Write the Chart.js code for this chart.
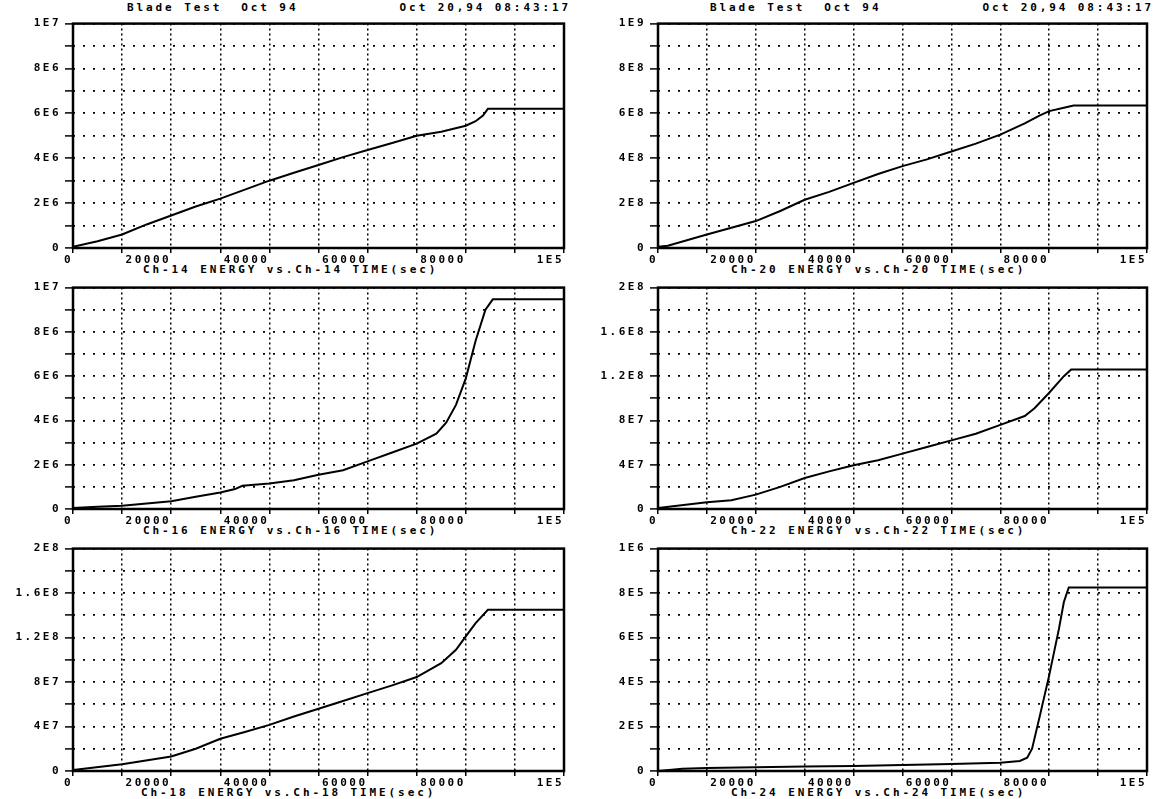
<!DOCTYPE html>
<html>
<head>
<meta charset="utf-8">
<script src="https://cdn.jsdelivr.net/npm/chart.js@4"></script>
<style>
  body { margin: 0; background: #fff; width: 1154px; height: 799px; overflow: hidden; position: relative; }
  canvas { position: absolute; }
  .txt { position: absolute; font: bold 11px "DejaVu Sans Mono", monospace; letter-spacing: 2.9px; white-space: pre; color: #000; line-height: 12px; }
</style>
</head>
<body>
<div class="txt" style="left:127px;top:2px">Blade Test  Oct 94</div>
<div class="txt" style="right:583px;top:2px">Oct 20,94 08:43:17</div>
<div class="txt" style="left:710px;top:2px">Blade Test  Oct 94</div>
<div class="txt" style="right:0px;top:2px">Oct 20,94 08:43:17</div>

<div class="txt" style="left:143px;top:264px">Ch-14 ENERGY vs.Ch-14 TIME(sec)</div>
<div class="txt" style="left:731px;top:264px">Ch-20 ENERGY vs.Ch-20 TIME(sec)</div>
<div class="txt" style="left:143px;top:525px">Ch-16 ENERGY vs.Ch-16 TIME(sec)</div>
<div class="txt" style="left:731px;top:525px">Ch-22 ENERGY vs.Ch-22 TIME(sec)</div>
<div class="txt" style="left:141px;top:787px">Ch-18 ENERGY vs.Ch-18 TIME(sec)</div>
<div class="txt" style="left:731px;top:787px">Ch-24 ENERGY vs.Ch-24 TIME(sec)</div>

<canvas id="c14" width="580" height="257" style="left:0;top:13px"></canvas>
<canvas id="c20" width="574" height="257" style="left:580px;top:13px"></canvas>
<canvas id="c16" width="580" height="254" style="left:0;top:277px"></canvas>
<canvas id="c22" width="574" height="254" style="left:580px;top:277px"></canvas>
<canvas id="c18" width="580" height="255" style="left:0;top:538px"></canvas>
<canvas id="c24" width="574" height="255" style="left:580px;top:538px"></canvas>

<script>
// time axis, same for every channel
const xTickLabels = ['0', '20000', '40000', '60000', '80000', '1E5'];

// Ch-14
const ch14Time = [0, 5000, 10000, 15000, 20000, 25000, 30000, 35000, 40000, 45000, 50000, 55000, 60000, 65000, 70000, 75000, 80000, 82000, 83500, 84500, 100000];
const ch14Energy = [0.05e6, 0.3e6, 0.6e6, 1.05e6, 1.45e6, 1.85e6, 2.2e6, 2.6e6, 3.0e6, 3.35e6, 3.7e6, 4.05e6, 4.37e6, 4.68e6, 5.0e6, 5.18e6, 5.45e6, 5.65e6, 5.9e6, 6.2e6, 6.2e6];
const ch14YLabels = ['0', '2E6', '4E6', '6E6', '8E6', '1E7'];

// Ch-20
const ch20Time = [0, 2000, 10000, 20000, 25000, 30000, 35000, 40000, 45000, 50000, 55000, 60000, 65000, 70000, 75000, 78000, 80000, 83000, 85000, 100000];
const ch20Energy = [0.05e8, 0.1e8, 0.6e8, 1.2e8, 1.65e8, 2.15e8, 2.5e8, 2.9e8, 3.3e8, 3.65e8, 3.95e8, 4.3e8, 4.65e8, 5.05e8, 5.55e8, 5.9e8, 6.1e8, 6.25e8, 6.35e8, 6.35e8];
const ch20YLabels = ['0', '2E8', '4E8', '6E8', '8E8', '1E9'];

// Ch-16
const ch16Time = [0, 5000, 10000, 15000, 20000, 25000, 30000, 33000, 34500, 40000, 45000, 50000, 55000, 60000, 65000, 70000, 74000, 76000, 78000, 80000, 82000, 84000, 85500, 100000];
const ch16Energy = [0.05e6, 0.1e6, 0.15e6, 0.25e6, 0.35e6, 0.55e6, 0.75e6, 0.9e6, 1.05e6, 1.15e6, 1.3e6, 1.55e6, 1.75e6, 2.15e6, 2.55e6, 2.95e6, 3.4e6, 3.9e6, 4.7e6, 5.9e6, 7.6e6, 9.0e6, 9.47e6, 9.47e6];
const ch16YLabels = ['0', '2E6', '4E6', '6E6', '8E6', '1E7'];

// Ch-22
const ch22Time = [0, 10000, 15000, 20000, 25000, 30000, 35000, 40000, 45000, 50000, 55000, 60000, 65000, 70000, 75000, 77000, 80000, 83000, 84500, 100000];
const ch22Energy = [0.1e7, 0.6e7, 0.8e7, 1.3e7, 2.0e7, 2.8e7, 3.4e7, 3.95e7, 4.4e7, 5.0e7, 5.6e7, 6.2e7, 6.8e7, 7.6e7, 8.4e7, 9.1e7, 10.5e7, 12.0e7, 12.6e7, 12.6e7];
const ch22YLabels = ['0', '4E7', '8E7', '1.2E8', '1.6E8', '2E8'];

// Ch-18
const ch18Time = [0, 10000, 20000, 25000, 30000, 35000, 40000, 45000, 50000, 55000, 60000, 65000, 70000, 75000, 78000, 80000, 82000, 84500, 100000];
const ch18Energy = [0.1e7, 0.6e7, 1.3e7, 2.0e7, 2.9e7, 3.5e7, 4.15e7, 4.9e7, 5.6e7, 6.3e7, 7.0e7, 7.7e7, 8.45e7, 9.7e7, 10.9e7, 12.1e7, 13.3e7, 14.5e7, 14.5e7];
const ch18YLabels = ['0', '4E7', '8E7', '1.2E8', '1.6E8', '2E8'];

// Ch-24
const ch24Time = [0, 5000, 10000, 20000, 30000, 40000, 50000, 60000, 70000, 74000, 75500, 76500, 78000, 80000, 82000, 83000, 84000, 100000];
const ch24Energy = [0, 0.1e5, 0.14e5, 0.17e5, 0.2e5, 0.23e5, 0.27e5, 0.32e5, 0.37e5, 0.45e5, 0.6e5, 1.0e5, 2.4e5, 4.3e5, 6.4e5, 7.6e5, 8.25e5, 8.25e5];
const ch24YLabels = ['0', '2E5', '4E5', '6E5', '8E5', '1E6'];

const tickFont = { family: 'DejaVu Sans Mono', size: 11, weight: 'bold' };

// heavy frame round the plot area + wide dot-matrix looking text
const framePlugin = {
  id: 'frame',
  beforeDraw(chart) {
    chart.ctx.letterSpacing = '2.5px';
  },
  afterDraw(chart) {
    const a = chart.chartArea;
    const ctx = chart.ctx;
    ctx.save();
    ctx.strokeStyle = '#000';
    ctx.lineWidth = 2.5;
    ctx.strokeRect(a.left, a.top, a.right - a.left, a.bottom - a.top);
    ctx.restore();
  }
};

function makePanel(id, times, energies, yMax, yLabels, axisWidth, padRight) {
  const pts = times.map((t, i) => ({ x: t, y: energies[i] }));
  new Chart(document.getElementById(id), {
    type: 'line',
    data: {
      datasets: [{
        data: pts,
        borderColor: '#000',
        borderWidth: 2,
        pointRadius: 0,
        tension: 0,
        fill: false
      }]
    },
    options: {
      responsive: false,
      animation: false,
      events: [],
      layout: { padding: { top: 8, right: padRight, left: 0, bottom: 0 } },
      plugins: { legend: { display: false }, tooltip: { enabled: false } },
      scales: {
        x: {
          type: 'linear',
          min: 0,
          max: 100000,
          afterFit(s) { s.height = 22; },
          ticks: {
            stepSize: 10000,
            autoSkip: false,
            maxRotation: 0,
            align: 'end',
            padding: 1,
            color: '#000',
            font: tickFont,
            callback: (v, i) => (i % 2 === 0 ? xTickLabels[i / 2] : '')
          },
          grid: { color: '#000', lineWidth: 1.5, tickLength: 5, tickColor: '#000', borderDash: [2, 3] },
          border: { display: false, dash: [2, 3] }
        },
        y: {
          min: 0,
          max: yMax,
          afterFit(s) { s.width = axisWidth; },
          ticks: {
            stepSize: yMax / 10,
            autoSkip: false,
            padding: 4,
            color: '#000',
            font: tickFont,
            callback: (v, i) => (i % 2 === 0 ? yLabels[i / 2] : '')
          },
          grid: { color: '#000', lineWidth: 1.8, tickLength: 8, tickColor: '#000', tickWidth: 1.5, borderDash: [2, 8] },
          border: { display: false, dash: [2, 8] }
        }
      }
    },
    plugins: [framePlugin]
  });
}

makePanel('c14', ch14Time, ch14Energy, 1e7, ch14YLabels, 73, 16);
makePanel('c20', ch20Time, ch20Energy, 1e9, ch20YLabels, 78, 7);
makePanel('c16', ch16Time, ch16Energy, 1e7, ch16YLabels, 73, 16);
makePanel('c22', ch22Time, ch22Energy, 2e8, ch22YLabels, 78, 7);
makePanel('c18', ch18Time, ch18Energy, 2e8, ch18YLabels, 73, 16);
makePanel('c24', ch24Time, ch24Energy, 1e6, ch24YLabels, 78, 7);
</script>
</body>
</html>
